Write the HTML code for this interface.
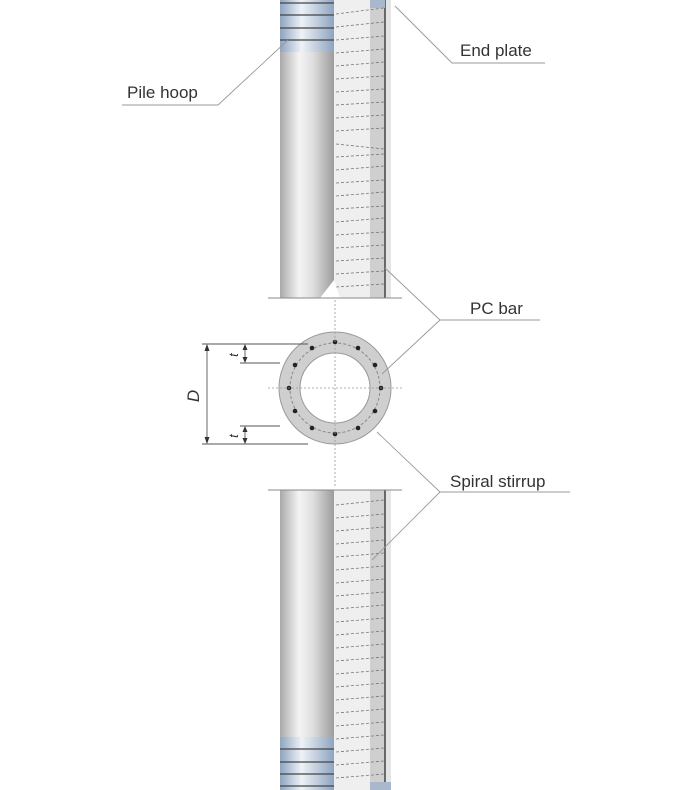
<!DOCTYPE html>
<html><head><style>body{margin:0;background:#fff}svg{display:block}text{font-family:"Liberation Sans",sans-serif;fill:#333}</style></head><body>
<svg width="690" height="790" viewBox="0 0 690 790" xmlns="http://www.w3.org/2000/svg">
<defs>
<linearGradient id="cyl" x1="0" x2="1" y1="0" y2="0">
<stop offset="0" stop-color="#a9a9a9"/><stop offset="0.35" stop-color="#f4f4f4"/><stop offset="0.6" stop-color="#e0e0e0"/><stop offset="1" stop-color="#9c9c9c"/></linearGradient>
<linearGradient id="hoop" x1="0" x2="1" y1="0" y2="0">
<stop offset="0" stop-color="#8ea4c0"/><stop offset="0.4" stop-color="#eef2f8"/><stop offset="1" stop-color="#8ea4c0"/></linearGradient>
</defs>
<!-- top segment -->
<g>
<rect x="280" y="0" width="54" height="298" fill="url(#cyl)"/>
<rect x="334" y="0" width="36" height="298" fill="#efefef"/>
<rect x="370" y="0" width="15" height="298" fill="#cfcfcf"/>
<rect x="385" y="0" width="6" height="298" fill="#e4e4e4"/>
<line x1="385" y1="0" x2="385" y2="298" stroke="#444" stroke-width="1.5"/>
<rect x="280" y="0" width="54" height="52" fill="url(#hoop)"/>
<rect x="370" y="0" width="15" height="8" fill="#a9b8cc"/>
<g stroke="#444" stroke-width="1.3"><line x1="280" y1="3" x2="334" y2="3"/><line x1="280" y1="15" x2="334" y2="15"/><line x1="280" y1="28" x2="334" y2="28"/><line x1="280" y1="40" x2="334" y2="40"/></g>
<g stroke="#777" stroke-width="0.8" stroke-dasharray="3,2">
<path d="M336 14 L384 8 M336 27 L384 22 M336 40 L384 36 M336 53 L384 49 M336 66 L384 62 M336 79 L384 76 M336 92 L384 89 M336 105 L384 102 M336 118 L384 115 M336 131 L384 128 M336 144 L384 149 M336 157 L384 154 M336 170 L384 166 M336 183 L384 180 M336 196 L384 192 M336 209 L384 206 M336 222 L384 218 M336 235 L384 232 M336 248 L384 245 M336 261 L384 258 M336 274 L384 271 M336 287 L384 284"/>
</g>
<polygon points="320,298 334,280 340,298" fill="#fff"/>
<line x1="268" y1="298" x2="402" y2="298" stroke="#888"/>
</g>
<!-- bottom segment -->
<g>
<rect x="280" y="490" width="54" height="300" fill="url(#cyl)"/>
<rect x="334" y="490" width="36" height="300" fill="#efefef"/>
<rect x="370" y="490" width="15" height="300" fill="#cfcfcf"/>
<rect x="385" y="490" width="6" height="300" fill="#e4e4e4"/>
<line x1="385" y1="490" x2="385" y2="790" stroke="#444" stroke-width="1.5"/>
<rect x="280" y="737" width="54" height="53" fill="url(#hoop)"/>
<rect x="370" y="782" width="21" height="8" fill="#a9b8cc"/>
<g stroke="#444" stroke-width="1.3"><line x1="280" y1="749" x2="334" y2="749"/><line x1="280" y1="762" x2="334" y2="762"/><line x1="280" y1="774" x2="334" y2="774"/><line x1="280" y1="786" x2="334" y2="786"/></g>
<g stroke="#777" stroke-width="0.8" stroke-dasharray="3,2">
<path d="M336 505 L384 500 M336 518 L384 514 M336 531 L384 527 M336 544 L384 540 M336 557 L384 553 M336 570 L384 566 M336 583 L384 579 M336 596 L384 592 M336 609 L384 605 M336 622 L384 618 M336 635 L384 631 M336 648 L384 644 M336 661 L384 657 M336 674 L384 670 M336 687 L384 683 M336 700 L384 696 M336 713 L384 709 M336 726 L384 722 M336 739 L384 735 M336 752 L384 748 M336 765 L384 761 M336 778 L384 774"/>
</g>
<polygon points="324,490 334,474 344,490" fill="#fff"/>
<line x1="268" y1="490" x2="402" y2="490" stroke="#888"/>
</g>
<!-- cross section -->
<circle cx="335" cy="388" r="56" fill="#cfcfcf" stroke="#999"/>
<circle cx="335" cy="388" r="45" fill="none" stroke="#888" stroke-dasharray="3,2"/>
<circle cx="335" cy="388" r="35" fill="#fff" stroke="#999"/>
<g fill="#222">
<circle cx="335" cy="342" r="2.3"/><circle cx="335" cy="434" r="2.3"/><circle cx="289" cy="388" r="2.3"/><circle cx="381" cy="388" r="2.3"/>
<circle cx="312" cy="348" r="2.3"/><circle cx="358" cy="348" r="2.3"/><circle cx="312" cy="428" r="2.3"/><circle cx="358" cy="428" r="2.3"/>
<circle cx="295" cy="365" r="2.3"/><circle cx="375" cy="365" r="2.3"/><circle cx="295" cy="411" r="2.3"/><circle cx="375" cy="411" r="2.3"/>
</g>
<g stroke="#999" stroke-dasharray="2,2" stroke-width="0.8"><line x1="335" y1="300" x2="335" y2="488"/><line x1="268" y1="395" x2="402" y2="395" transform="translate(0,-7)"/></g>
<!-- dimensions -->
<g stroke="#555" stroke-width="0.9">
<line x1="202" y1="344" x2="308" y2="344"/><line x1="202" y1="444" x2="308" y2="444"/>
<line x1="240" y1="363" x2="280" y2="363"/><line x1="240" y1="426" x2="280" y2="426"/>
<line x1="207" y1="346" x2="207" y2="442"/>
<line x1="245" y1="346" x2="245" y2="361"/><line x1="245" y1="428" x2="245" y2="442"/>
</g>
<g fill="#333"><path d="M207 344 l-2.5 7 h5z M207 444 l-2.5 -7 h5z M245 344 l-2.5 6 h5z M245 363 l-2.5 -6 h5z M245 426 l-2.5 6 h5z M245 444 l-2.5 -6 h5z"/></g>
<text x="199" y="396" font-size="17" font-style="italic" transform="rotate(-90 199 396)" text-anchor="middle">D</text>
<text x="238" y="355" font-size="13" font-style="italic" transform="rotate(-90 238 355)" text-anchor="middle">t</text>
<text x="238" y="436" font-size="13" font-style="italic" transform="rotate(-90 238 436)" text-anchor="middle">t</text>
<!-- leaders -->
<g stroke="#999" stroke-width="0.9" fill="none">
<polyline points="122,105 218,105 288,40"/>
<polyline points="545,63 452,63 395,6"/>
<polyline points="540,320 440,320 385,268"/>
<line x1="440" y1="320" x2="382" y2="374"/>
<polyline points="570,492 440,492 377,432"/>
<line x1="440" y1="492" x2="372" y2="560"/>
</g>
<text x="127" y="98" font-size="17">Pile hoop</text>
<text x="460" y="56" font-size="17">End plate</text>
<text x="470" y="314" font-size="17">PC bar</text>
<text x="450" y="487" font-size="17">Spiral stirrup</text>
</svg>
</body></html>
